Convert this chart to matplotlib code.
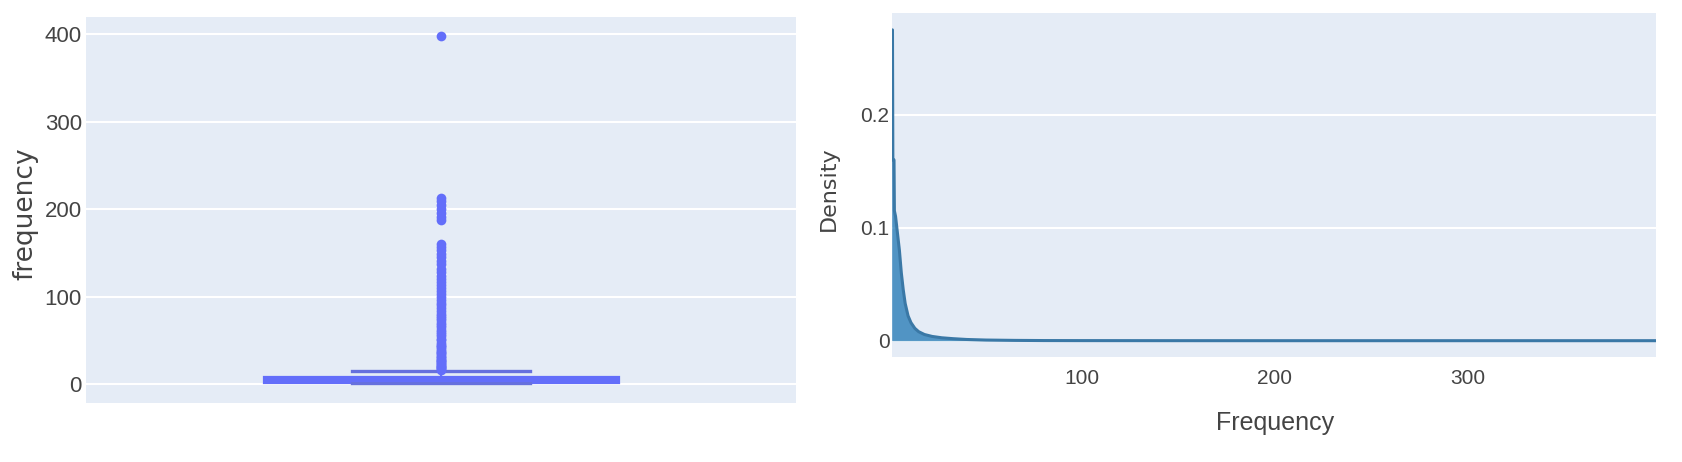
import matplotlib
matplotlib.use("Agg")
import matplotlib.pyplot as plt
from matplotlib import font_manager as fm

# ---------------- data ----------------
# box plot summary (frequency)
box_q1 = 1
box_median = 3
box_q3 = 8
whisker_low = 1
whisker_high = 15
outliers = [16, 17, 18, 19, 20, 21, 22, 23, 24, 25, 26, 27, 28, 30, 31, 32, 34, 35,
            37, 38, 40, 42, 44, 45, 47, 50, 52, 55, 57, 60, 62, 65, 68, 70, 73, 75,
            78, 80, 84, 87, 90, 93, 96, 100, 103, 106, 110, 113, 117, 120, 124, 128,
            131, 137, 141, 145, 149, 153, 157, 160, 188, 191, 196, 200, 205, 209, 213,
            398]
box_yticks = [0, 100, 200, 300, 400]

# density curve (Frequency)
dens_x = [1.0, 1.4, 1.6, 2.2, 2.4, 3.0, 4.0, 5.0, 6.0, 7.0, 8.0, 9.5, 11, 13, 15,
          18, 22, 27, 33, 40, 50, 65, 80, 100, 150, 200, 300, 398]
dens_y = [0.275, 0.275, 0.16, 0.16, 0.115, 0.110, 0.095, 0.080, 0.060, 0.045, 0.033,
          0.022, 0.016, 0.011, 0.008, 0.0055, 0.0038, 0.0026, 0.0018, 0.0011, 0.0006,
          0.0003, 0.00015, 0.0001, 0.00005, 0.00003, 0.00003, 0.00003]
dens_xticks = [100, 200, 300]
dens_yticks = [0, 0.1, 0.2]
dens_yticklabels = ["0", "0.1", "0.2"]

# ---------------- styling ----------------
names = {f.name for f in fm.fontManager.ttflist}
narrow = "Liberation Sans Narrow" if "Liberation Sans Narrow" in names else "Liberation Sans"
BG = "#E5ECF6"
TXT = "#444444"
BOXC = "#636EFA"

W, H = 1682, 462
fig = plt.figure(figsize=(W / 100, H / 100), dpi=100)
fig.patch.set_facecolor("white")

def ax_rect(l, r, t, b):
    return [l / W, (H - b) / H, (r - l) / W, (b - t) / H]

# ---------------- left: box plot ----------------
ax1 = fig.add_axes(ax_rect(86, 796, 16.7, 402.7))
ax1.set_facecolor(BG)
stats = [{
    "med": box_median, "q1": box_q1, "q3": box_q3,
    "whislo": whisker_low, "whishi": whisker_high, "fliers": outliers,
}]
ax1.bxp(stats, positions=[0], widths=[0.5], capwidths=[0.25], patch_artist=True,
        boxprops=dict(facecolor=BOXC, edgecolor=BOXC, linewidth=1.6),
        medianprops=dict(color=BOXC, linewidth=1.6),
        whiskerprops=dict(color=BOXC, linewidth=1.6),
        capprops=dict(color="#6670dd", linewidth=2.4),
        flierprops=dict(marker="o", markersize=7, markerfacecolor=BOXC,
                        markeredgewidth=0, linestyle="none"),
        zorder=3)
ax1.set_xlim(-0.5, 0.5)
ax1.set_ylim(-21.4, 420.1)
ax1.set_xticks([])
ax1.set_yticks(box_yticks)
ax1.set_yticklabels([str(v) for v in box_yticks], fontfamily=narrow, fontsize=16, color=TXT)
ax1.tick_params(axis="y", length=0, pad=3)
ax1.grid(axis="y", color="white", linewidth=1.5, zorder=0)
ax1.set_axisbelow(True)
for s in ax1.spines.values():
    s.set_visible(False)
ax1.set_ylabel("frequency", fontfamily="DejaVu Sans", fontsize=19, color=TXT, va="center")
ax1.yaxis.set_label_coords((25.5 - 86) / 710, 0.49)

# ---------------- right: density ----------------
ax2 = fig.add_axes(ax_rect(891.7, 1656, 13.3, 357))
ax2.set_facecolor(BG)
ax2.fill_between(dens_x, 0, dens_y, color="#1f77b4", alpha=0.75, linewidth=0, zorder=2)
ax2.plot(dens_x, dens_y, color="#3a78a6", linewidth=2.2, zorder=3)
ax2.set_xlim(1, 398)
ax2.set_ylim(-0.0144, 0.2897)
ax2.set_xticks(dens_xticks)
ax2.set_xticklabels([str(v) for v in dens_xticks], fontfamily="Liberation Sans", fontsize=15, color=TXT)
ax2.set_yticks(dens_yticks)
ax2.set_yticklabels(dens_yticklabels, fontfamily="Liberation Sans", fontsize=15, color=TXT)
ax2.tick_params(axis="y", length=0, pad=1.5)
ax2.tick_params(axis="x", length=0, pad=9)
ax2.grid(axis="y", color="white", linewidth=1.5, zorder=0)
ax2.set_axisbelow(True)
for s in ax2.spines.values():
    s.set_visible(False)
ax2.set_ylabel("Density", fontfamily="DejaVu Sans", fontsize=16, color=TXT, va="center")
ax2.yaxis.set_label_coords((828.5 - 891.7) / 764.3, 0.49)
ax2.set_xlabel("Frequency", fontfamily=narrow, fontsize=18, color=TXT, va="center")
ax2.xaxis.set_label_coords(0.5015, (357 - 423) / 343.7)

fig.savefig("out.png", dpi=100, facecolor="white")
